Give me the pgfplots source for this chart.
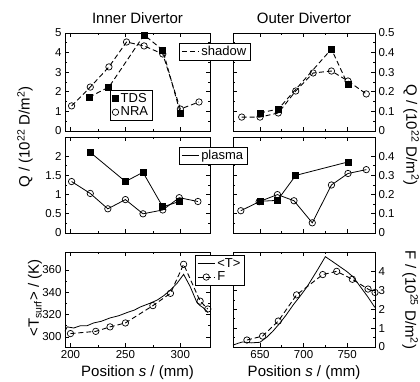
\documentclass[border=0pt]{standalone}
\usepackage{pgfplots}
\pgfplotsset{compat=1.18}
\usepackage{fontspec}
\setmainfont{Liberation Sans}
\newcommand{\tickfont}{\fontsize{11.5}{12}\selectfont}
\newcommand{\labfont}{\fontsize{15}{15}\selectfont}
\pgfplotsset{
  panel/.style={
    scale only axis, anchor=south west, clip=false,
    tick align=inside, ytick pos=both, xtick pos=both,
    /pgf/number format/assume math mode=true,
    tick label style={font=\tickfont, black},
    label style={font=\labfont},
    title style={font=\labfont},
    axis line style={line width=0.8pt},
    major tick length=4pt, minor tick length=2pt,
    minor y tick num=1, minor x tick num=1,
    every tick/.style={black, line width=0.7pt},
    legend style={font=\fontsize{13}{14}\selectfont, draw=black, fill=white, line width=0.7pt,
      inner xsep=2pt, inner ysep=1pt, row sep=-1pt, anchor=north west},
    legend cell align=left,
  },
  leftp/.style={panel, xmin=195, xmax=327, xtick={200,250,300}, width=145pt},
  rightp/.style={panel, xmin=619, xmax=782, xtick={650,700,750}, width=142pt, yticklabel pos=right},
  dsh/.style={black, line width=0.9pt, dash pattern=on 5pt off 3pt},
  sld/.style={black, line width=0.8pt},
  tds/.style={mark=square*, mark size=3pt, mark options={solid, fill=black}},
  nra/.style={mark=o, mark size=3.2pt, mark options={solid, fill=white, line width=0.7pt}},
}
\begin{document}
\begin{tikzpicture}
\useasboundingbox (0,0) rectangle (420pt,382pt);
% ---------- top left
\begin{axis}[leftp, at={(65pt,251pt)}, height=98pt, ymin=0, ymax=5, ytick={0,1,2,3,4,5},
  xticklabels={}, title={Inner Divertor},
  legend style={at={(0.31,0.418)}}]
\addplot[dsh, tds, forget plot] coordinates {(217,1.73)(235,2.24)(267,4.9)(284,4.13)(300,0.92)};
\addplot[dsh, nra, forget plot] coordinates {(201,1.28)(218,2.24)(235,3.27)(251,4.54)(267,4.34)(284,3.93)(300,1.12)(317,1.48)};
\addlegendimage{only marks, mark=square*, mark size=3pt, fill=black}
\addlegendentry{TDS}
\addlegendimage{only marks, mark=o, mark size=3.2pt}
\addlegendentry{NRA}
\end{axis}
% ---------- top right
\begin{axis}[rightp, at={(233pt,251pt)}, height=98pt, ymin=0, ymax=0.5, ytick={0,0.1,0.2,0.3,0.4,0.5},
  xticklabels={}, title={Outer Divertor},
  legend style={at={(-0.38,0.898)}}]
\addplot[dsh, tds, forget plot] coordinates {(650,0.092)(671,0.112)(732,0.418)(751,0.235)};
\addplot[dsh, nra, forget plot] coordinates {(629,0.071)(650,0.071)(671,0.092)(691,0.204)(711,0.296)(732,0.306)(751,0.255)(772,0.189)};
\addlegendimage{dsh}
\addlegendentry{shadow}
\end{axis}
% ---------- middle left
\begin{axis}[leftp, at={(65pt,149pt)}, height=96pt, ymin=0, ymax=2.5, ytick={0,0.5,1,1.5,2},
  xticklabels={}]
\addplot[sld, tds] coordinates {(218,2.1)(250,1.34)(266,1.58)(284,0.68)(299,0.82)};
\addplot[sld, nra] coordinates {(201,1.34)(218,1.03)(234,0.63)(250,0.87)(266,0.5)(284,0.6)(299,0.92)(316,0.82)};
\end{axis}
% ---------- middle right
\begin{axis}[rightp, at={(233pt,149pt)}, height=96pt, ymin=0, ymax=0.5, ytick={0,0.1,0.2,0.3,0.4},
  xticklabels={}, legend style={at={(-0.38,0.896)}}]
\addplot[sld, tds, forget plot] coordinates {(650,0.165)(670,0.17)(691,0.30)(751,0.37)};
\addplot[sld, nra, forget plot] coordinates {(628,0.116)(649,0.163)(670,0.2)(689,0.168)(710,0.053)(732,0.25)(751,0.31)(772,0.33)};
\addlegendimage{sld}
\addlegendentry{plasma}
\end{axis}
% ---------- bottom left
\begin{axis}[leftp, at={(65pt,35pt)}, height=95pt, ymin=291, ymax=376, ytick={300,320,340,360},
  xlabel={Position \textit{s} / (mm)}]
\addplot[sld] coordinates {(195,305)(197,309)(203,308)(209,310)(215,310)(221,312.5)(228,314)(236,317)(244,319)(252,322)(258,324)(264,327)(272,330)(279,333)(285,337)(291,342)(297,348)(303,356)(309,345)(315,331)(318,328)(321,326)(325,322)};
\addplot[dsh, nra] coordinates {(200,303)(223,305)(236,309)(250,312.5)(275,328)(291,339)(303,365)(318,332)(325,325)};
\end{axis}
% ---------- bottom right
\begin{axis}[rightp, at={(233pt,35pt)}, height=95pt, ymin=0, ymax=5.05, ytick={0,1,2,3,4},
  xlabel={Position \textit{s} / (mm)}, legend style={at={(-0.268,0.968)}}]
\addplot[sld] coordinates {(619,0.1)(625,0.2)(630,0.27)(640,0.22)(650,0.25)(658,0.53)(665,0.85)(673,1.28)(680,1.7)(688,2.23)(696,2.7)(704,3.2)(710,3.65)(716,4.1)(725,4.8)(733,4.55)(742,4.26)(750,4.0)(757,3.72)(768,3.03)(774,2.65)(780,2.23)(782,2.1)};
\addlegendentry{\textless T\textgreater}
\addplot[dsh, nra] coordinates {(635,0.37)(653,0.58)(671,1.38)(692,2.77)(722,3.85)(738,4.02)(756,3.6)(774,3.08)(782,2.9)};
\addlegendentry{F}
\end{axis}
% ---------- y labels
\node[rotate=90, font=\labfont] at (25pt,245pt) {Q / (10\textsuperscript{22} D/m\textsuperscript{2})};
\node[rotate=-90, font=\labfont] at (411pt,247pt) {Q / (10\textsuperscript{22} D/m\textsuperscript{2})};
\node[rotate=90, font=\labfont] at (35pt,84pt) {\textless T\textsubscript{surf}\textgreater{} / (K)};
\node[rotate=-90, font=\labfont] at (410pt,82pt) {F / (10\textsuperscript{25} D/m\textsuperscript{2})};
\end{tikzpicture}
\end{document}
